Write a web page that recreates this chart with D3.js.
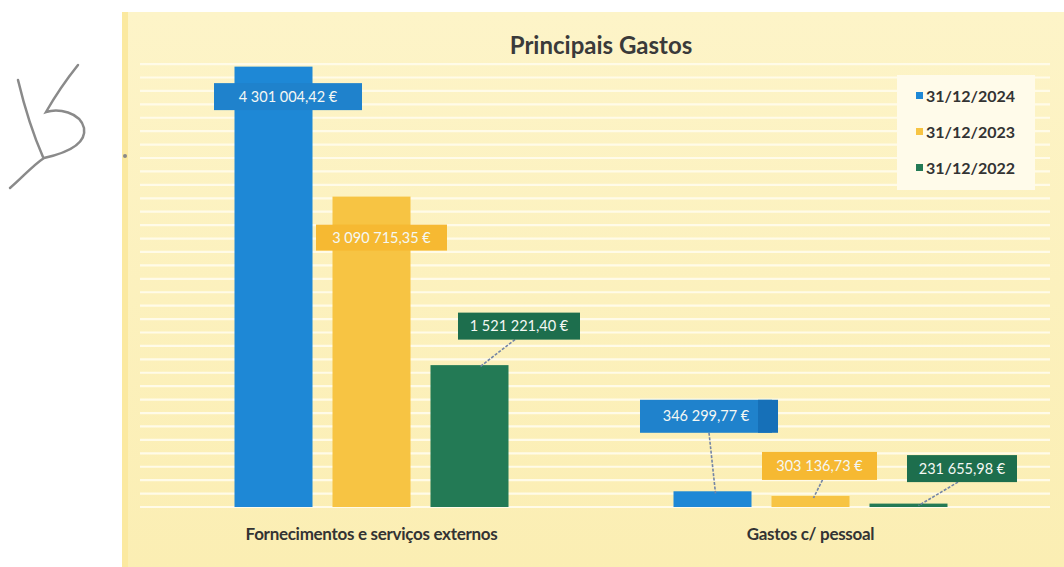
<!DOCTYPE html>
<html><head><meta charset="utf-8">
<script src="https://cdn.jsdelivr.net/npm/d3@7"></script>
<style>
html,body{margin:0;padding:0;background:#fff;}
svg{display:block;font-family:Lato,"Open Sans",sans-serif;}
</style></head>
<body>
<svg id="c" width="1064" height="567"></svg>
<script>
const categories = ["Fornecimentos e serviços externos", "Gastos c/ pessoal"];
const seriesNames = ["31/12/2024", "31/12/2023", "31/12/2022"];
const values2024 = [4301004.42, 346299.77];
const values2023 = [3090715.35, 303136.73];
const values2022 = [1521221.40, 231655.98];
const seriesColors = ["#1e88d6", "#f7c443", "#237a55"];
const labelColors = ["#1f82cc", "#f6b932", "#1d6e4d"];

const seriesValues = [values2024, values2023, values2022];
// label box placement relative to bar top-centre: [dx, dy, w, h, leader]
const labelLayout = [
  [[14.5, 30, 148, 27, 0], [-6.5, -75, 132, 33, 1]],
  [[10, 41, 131, 26, 0], [9, -30, 115, 28, 1]],
  [[49.5, -39, 122, 27, 1], [53.5, -35, 110, 27, 1]]
];

const svg = d3.select("#c");
const defs = svg.append("defs");
const bg = defs.append("linearGradient").attr("id","bg").attr("x1",0).attr("x2",0).attr("y1",0).attr("y2",1);
bg.append("stop").attr("offset","0%").attr("stop-color","#fdf4c8");
bg.append("stop").attr("offset","100%").attr("stop-color","#fbeeb3");
svg.append("rect").attr("x",122).attr("y",12).attr("width",942).attr("height",555).attr("fill","url(#bg)");
svg.append("rect").attr("x",122).attr("y",12).attr("width",6).attr("height",555).attr("fill","#fbe9a0");

const y = d3.scaleLinear().domain([200000, 4400000]).range([507, 56]);
const x0 = d3.scaleBand().domain(categories).range([152, 1030]);
const x1 = d3.scaleBand().domain(seriesNames).range([0, 274]).paddingInner(0.204);
const groupOffset = (x0.bandwidth() - 274) / 2;

// gridlines
const gridTicks = d3.range(200000, 4400001, 125000);
svg.append("g").selectAll("line").data(gridTicks).join("line")
  .attr("x1", 140).attr("x2", 1050)
  .attr("y1", d => y(d)).attr("y2", d => y(d))
  .attr("stroke", "#fffbe8").attr("stroke-width", 2.2);

// title
svg.append("text").attr("x", 601).attr("y", 54).attr("text-anchor","middle")
  .attr("font-size", 24).attr("font-weight", "bold").attr("fill", "#3a3a3a")
  .attr("letter-spacing", 0).text("Principais Gastos");

const fmt = v => {
  const [i, d] = v.toFixed(2).split(".");
  return i.replace(/\B(?=(\d{3})+(?!\d))/g, " ") + "," + d + " €";
};
const gBars = svg.append("g");
seriesNames.forEach((s, si) => {
  categories.forEach((c, ci) => {
    const v = seriesValues[si][ci];
    const bx = x0(c) + groupOffset + x1(s);
    const top = y(v);
    gBars.append("rect").attr("x", bx).attr("y", top)
      .attr("width", x1.bandwidth()).attr("height", y.range()[0] - top)
      .attr("fill", seriesColors[si]);
  });
});

// data labels
const gLab = svg.append("g");
seriesNames.forEach((s, si) => {
  categories.forEach((c, ci) => {
    const v = seriesValues[si][ci];
    const cx = x0(c) + groupOffset + x1(s) + x1.bandwidth() / 2;
    const top = y(v);
    const [dx, dy, w, h, leader] = labelLayout[si][ci];
    const lx = cx + dx, ly = top + dy;
    if (leader) {
      const ty = ly + h / 2;
      gLab.append("line").attr("x1", lx + (dx > 20 ? -4 : 3)).attr("y1", ty)
        .attr("x2", cx + (dx > 20 ? 10 : 3)).attr("y2", top + 2)
        .attr("stroke", "#7385a6").attr("stroke-width", 1.6).attr("stroke-dasharray", "3,1.5");
    }
    gLab.append("rect").attr("x", lx - w / 2).attr("y", ly - h / 2)
      .attr("width", w).attr("height", h).attr("fill", labelColors[si]);
    if (si === 0 && ci === 1) {
      gLab.append("rect").attr("x", lx + w / 2 - 14).attr("y", ly - h / 2)
        .attr("width", 20).attr("height", h).attr("fill", "#1670b8");
    }
    gLab.append("text").attr("x", lx).attr("y", ly + 5).attr("text-anchor", "middle")
      .attr("font-size", 14.5).attr("fill", "#f4f8f4").text(fmt(v));
  });
});

// category axis labels
svg.append("g").selectAll("text").data(categories).join("text")
  .attr("x", d => x0(d) + x0.bandwidth() / 2).attr("y", 540)
  .attr("text-anchor", "middle").attr("font-size", 17).attr("font-weight", "bold")
  .attr("fill", "#333").attr("letter-spacing", -0.3).text(d => d);

// legend
svg.append("rect").attr("x", 897).attr("y", 75).attr("width", 138).attr("height", 115)
  .attr("fill", "#fffbea");
const leg = svg.append("g").selectAll("g").data(seriesNames).join("g")
  .attr("transform", (d, i) => `translate(916, ${97 + i * 36})`);
leg.append("rect").attr("x", 0).attr("y", -5).attr("width", 7).attr("height", 7)
  .attr("fill", (d, i) => seriesColors[i]);
leg.append("text").attr("x", 10).attr("y", 5).attr("font-size", 16).attr("font-weight", "bold")
  .attr("fill", "#333").text(d => d);

// handwritten initials (decorative)
svg.append("path")
  .attr("d", "M18,80 C24,105 32,132 43,157 M78,65 C66,80 54,98 46,112 C58,108 80,112 84,128 C87,146 62,154 44,158 C32,166 22,178 10,188")
  .attr("fill", "none").attr("stroke", "#8a8a8a").attr("stroke-width", 2.5).attr("stroke-linecap", "round");
svg.append("circle").attr("cx", 125).attr("cy", 156).attr("r", 2).attr("fill", "#888");
</script>
</body></html>
